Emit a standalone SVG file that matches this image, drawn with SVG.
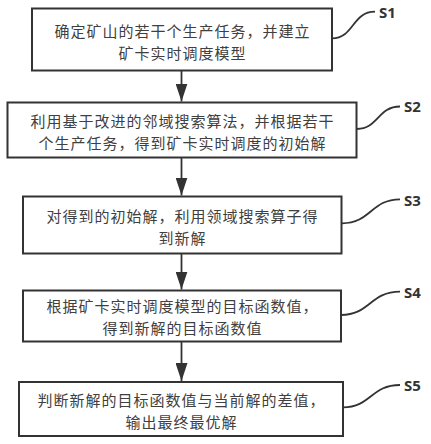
<svg xmlns="http://www.w3.org/2000/svg" width="431" height="444" viewBox="0 0 431 444">
<style>
.box{fill:#fff;stroke:#333;stroke-width:2}
.t{font-family:"Noto Sans CJK SC","Noto Sans",sans-serif;font-size:15px;letter-spacing:1px;fill:#404040;text-anchor:middle}
.lbl{font-family:"Open Sans","Liberation Sans",sans-serif;font-size:15px;font-weight:700;fill:#333}
.lead{fill:none;stroke:#333;stroke-width:1.8}
.arr{fill:none;stroke:#333;stroke-width:1.8}
</style>
<defs>
<marker id="ah" markerUnits="userSpaceOnUse" markerWidth="18" markerHeight="12" refX="18" refY="6" orient="auto">
<path d="M0,0 L18,6 L0,12 z" fill="#333"/>
</marker>
</defs>
<rect width="431" height="444" fill="#fff"/>
<g id="connectors">
<line class="arr" x1="181.5" y1="70.5" x2="181.5" y2="101.5" marker-end="url(#ah)"/>
<line class="arr" x1="181.5" y1="157.5" x2="181.5" y2="195.5" marker-end="url(#ah)"/>
<line class="arr" x1="181.5" y1="253.5" x2="181.5" y2="289.5" marker-end="url(#ah)"/>
<line class="arr" x1="181.5" y1="341.5" x2="181.5" y2="381" marker-end="url(#ah)"/>
</g>
<g id="S1">
<rect class="box" x="32" y="8.5" width="300" height="62"/>
<text class="t"><tspan x="182.5" y="37">确定矿山的若干个生产任务，并建立</tspan><tspan x="182.5" y="59">矿卡实时调度模型</tspan></text>
<path class="lead" d="M332,38.3 C354,38.3 352,11.7 375,11.7"/>
<text class="lbl" x="379" y="17.5">S1</text>
</g>
<g id="S2">
<rect class="box" x="7.5" y="102.5" width="349" height="55"/>
<text class="t"><tspan x="182.5" y="126.7">利用基于改进的邻域搜索算法，并根据若干</tspan><tspan x="182.5" y="148.7">个生产任务，得到矿卡实时调度的初始解</tspan></text>
<path class="lead" d="M357,129 C378,129 378,106.5 400,106.5"/>
<text class="lbl" x="404" y="112">S2</text>
</g>
<g id="S3">
<rect class="box" x="23" y="196.5" width="318.5" height="57"/>
<text class="t"><tspan x="182.5" y="221.7">对得到的初始解，利用领域搜索算子得</tspan><tspan x="182.5" y="243.7">到新解</tspan></text>
<path class="lead" d="M342,223.3 C371,223.3 371,199.3 400,199.3"/>
<text class="lbl" x="404" y="206">S3</text>
</g>
<g id="S4">
<rect class="box" x="23" y="290.5" width="318" height="51"/>
<text class="t"><tspan x="182.5" y="312.2">根据矿卡实时调度模型的目标函数值，</tspan><tspan x="182.5" y="334.2">得到新解的目标函数值</tspan></text>
<path class="lead" d="M341,315 C370,315 370,291.7 400,291.7"/>
<text class="lbl" x="404" y="297.7">S4</text>
</g>
<g id="S5">
<rect class="box" x="19" y="382" width="324" height="54"/>
<text class="t"><tspan x="181.5" y="405.5">判断新解的目标函数值与当前解的差值，</tspan><tspan x="181.5" y="427.5">输出最终最优解</tspan></text>
<path class="lead" d="M343,407.3 C371,407.3 371,385 400,385"/>
<text class="lbl" x="404" y="390.7">S5</text>
</g>
</svg>
